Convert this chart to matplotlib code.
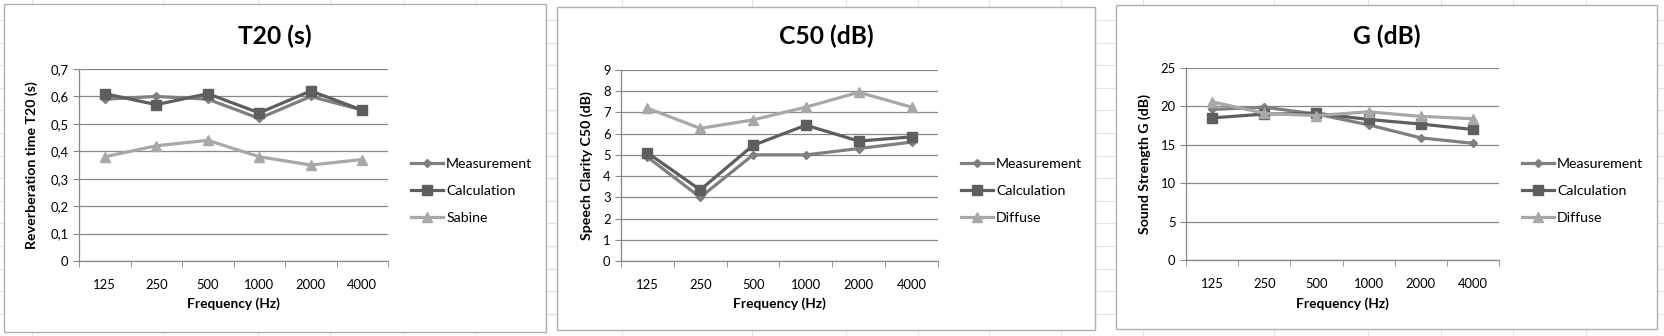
import matplotlib
matplotlib.use('Agg')
import matplotlib.pyplot as plt
from matplotlib.patches import Rectangle
import numpy as np

plt.rcParams['font.family'] = ['Lato', 'DejaVu Sans']

freqs = ['125', '250', '500', '1000', '2000', '4000']

# T20 (s)
t20_measurement = [0.59, 0.60, 0.59, 0.52, 0.60, 0.55]
t20_calculation = [0.61, 0.57, 0.61, 0.54, 0.62, 0.55]
t20_sabine = [0.38, 0.42, 0.44, 0.38, 0.35, 0.37]

# C50 (dB)
c50_measurement = [4.9, 3.0, 5.0, 5.0, 5.3, 5.6]
c50_calculation = [5.1, 3.35, 5.45, 6.4, 5.65, 5.85]
c50_diffuse = [7.2, 6.25, 6.65, 7.25, 7.95, 7.25]

# G (dB)
g_measurement = [19.6, 19.9, 19.0, 17.6, 15.9, 15.2]
g_calculation = [18.5, 19.0, 19.1, 18.3, 17.7, 17.0]
g_diffuse = [20.6, 19.1, 18.8, 19.3, 18.7, 18.4]

W, H = 1664, 336
fig = plt.figure(figsize=(W / 100, H / 100), dpi=100)
renderer = fig.canvas.get_renderer()

def fx(px):
    return px / W

def fy(py):
    return 1 - py / H

def fit_size(s, target_px, weight='normal'):
    # pick a font size so the text is about as wide as in the screenshot
    t = fig.text(0, 0, s, fontsize=10, fontweight=weight)
    w = t.get_window_extent(renderer).width
    t.remove()
    return 10 * target_px / w

TICK_FS = fit_size('4000', 30)
LEG_FS = fit_size('Measurement', 86)
XLAB_FS = fit_size('Frequency (Hz)', 93, 'bold')
YLAB_FS = fit_size('Reverberation time T20 (s)', 167, 'bold')
TITLE_FS = fit_size('G (dB)', 68, 'bold')

# spreadsheet cell lines behind the charts
bg = fig.add_axes([0, 0, 1, 1], zorder=-10)
bg.set_xlim(0, W)
bg.set_ylim(H, 0)
bg.axis('off')
for y in np.arange(20, H, 22.6):
    bg.axhline(y, color='#e3e3e3', lw=0.8)
for x in [32, 163, 258, 330, 404, 476, 622, 752, 846, 918, 989, 1061,
          1143, 1274, 1368, 1441, 1513, 1586]:
    bg.axvline(x, color='#e3e3e3', lw=0.8)

GRID = '#888888'
COLORS = ['#7f7f7f', '#5e5e5e', '#a8a8a8']
MARKERS = ['D', 's', '^']
MSIZES = [4.5, 7.2, 7.8]

panels = [
    dict(box=(4, 4, 546, 332), plot=(79, 69, 388, 261), title='T20 (s)',
         ylabel='Reverberation time T20 (s)', ylx=32,
         series=[t20_measurement, t20_calculation, t20_sabine],
         names=['Measurement', 'Calculation', 'Sabine'],
         ylim=(0, 0.7), step=0.1, fmt=lambda v: ('%.1f' % v).replace('.', ',') if v else '0'),
    dict(box=(557, 7, 1095, 330), plot=(621, 70, 938, 261), title='C50 (dB)',
         ylabel='Speech Clarity C50 (dB)', ylx=587,
         series=[c50_measurement, c50_calculation, c50_diffuse],
         names=['Measurement', 'Calculation', 'Diffuse'],
         ylim=(0, 9), step=1, fmt=lambda v: '%d' % v),
    dict(box=(1116, 5, 1657, 329), plot=(1186, 68, 1499, 260), title='G (dB)',
         ylabel='Sound Strength G (dB)', ylx=1145,
         series=[g_measurement, g_calculation, g_diffuse],
         names=['Measurement', 'Calculation', 'Diffuse'],
         ylim=(0, 25), step=5, fmt=lambda v: '%d' % v),
]

for p in panels:
    x0, y0, x1, y1 = p['box']
    fig.patches.append(Rectangle((fx(x0), fy(y1)), fx(x1 - x0), (y1 - y0) / H,
                                 transform=fig.transFigure, facecolor='white',
                                 edgecolor='#b0b0b0', lw=1.0, zorder=-5))
    l, t, r, b = p['plot']
    ax = fig.add_axes([fx(l), fy(b), fx(r - l), (b - t) / H])
    ax.set_facecolor('none')
    x = np.arange(len(freqs))
    for vals, name, c, m, ms in zip(p['series'], p['names'], COLORS, MARKERS, MSIZES):
        ax.plot(x, vals, color=c, lw=2.3, marker=m, markersize=ms,
                markerfacecolor=c, markeredgecolor=c, label=name, zorder=3)
    ax.set_xlim(-0.5, len(freqs) - 0.5)
    ax.set_ylim(*p['ylim'])
    yt = np.arange(p['ylim'][0], p['ylim'][1] + p['step'] / 2, p['step'])
    ax.set_yticks(yt)
    ax.set_yticklabels([p['fmt'](v) for v in yt], fontsize=TICK_FS)
    ax.set_xticks(x)
    ax.set_xticklabels(freqs, fontsize=TICK_FS)
    ax.set_xticks(np.arange(-0.5, len(freqs)), minor=True)
    ax.tick_params(axis='x', which='major', length=0, pad=13)
    ax.tick_params(axis='x', which='minor', length=4.5, color=GRID, direction='out')
    ax.tick_params(axis='y', length=4.5, color=GRID, pad=3)
    ax.grid(axis='y', color=GRID, lw=0.9)
    ax.set_axisbelow(True)
    for s in ['top', 'right']:
        ax.spines[s].set_visible(False)
    for s in ['left', 'bottom']:
        ax.spines[s].set_color(GRID)
        ax.spines[s].set_linewidth(0.9)
    fig.text(fx((l + r) / 2), fy(304), 'Frequency (Hz)', ha='center', va='center',
             fontsize=XLAB_FS, fontweight='bold')
    fig.text(fx(p['ylx']), fy((t + b) / 2), p['ylabel'], ha='center', va='center',
             rotation=90, fontsize=YLAB_FS, fontweight='bold')
    fig.text(fx((x0 + x1) / 2), fy(36), p['title'], ha='center', va='center',
             fontsize=TITLE_FS, fontweight='bold')
    lx = (r + 23 - l) / (r - l)
    ax.legend(loc='center left', bbox_to_anchor=(lx, (b - 191) / (b - t)),
              frameon=False, fontsize=LEG_FS, handlelength=2.3, handletextpad=0.2,
              labelspacing=1.05, borderaxespad=0, borderpad=0)

fig.savefig('out.png', dpi=100)
